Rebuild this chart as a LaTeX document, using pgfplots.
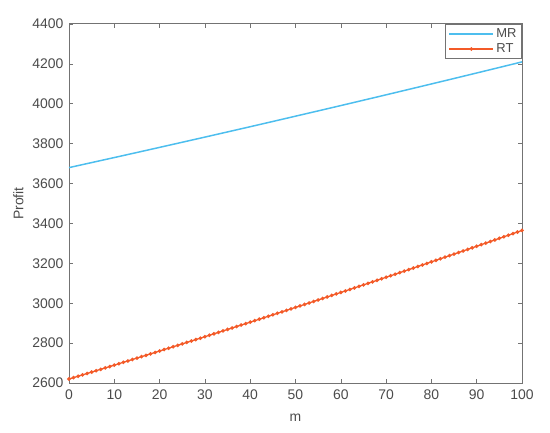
\documentclass[border=0pt]{standalone}
\usepackage{pgfplots}
\pgfplotsset{compat=1.18}
\usepackage{fontspec}
\setmainfont{Liberation Sans}
\definecolor{mrc}{RGB}{77,190,238}
\definecolor{rtc}{RGB}{243,90,40}
\definecolor{axc}{RGB}{115,115,115}
\definecolor{txc}{RGB}{75,75,75}
\begin{document}
\begin{tikzpicture}[x=1bp,y=1bp]
\path[use as bounding box] (-69bp,-50bp) rectangle (481bp,383bp);
\begin{axis}[
  at={(0,0)}, anchor=south west,
  scale only axis, width=453bp, height=359bp,
  xmin=0, xmax=100, ymin=2600, ymax=4400,
  xtick={0,10,...,100}, ytick={2600,2800,...,4400},
  tick align=inside, tick pos=both,
  major tick length=4bp,
  axis line style={axc, line width=1pt},
  every tick/.style={axc, line width=0.6pt},
  tick label style={font=\fontsize{14}{16}\selectfont, text=txc},
  xticklabel style={yshift=-3bp},
  yticklabel style={xshift=-2bp},
  /pgf/number format/assume math mode=true,
  /pgf/number format/1000 sep={},
  xlabel={m}, ylabel={Profit},
  label style={font=\fontsize{14}{16}\selectfont, text=txc},
  xlabel style={yshift=-8bp},
  ylabel style={yshift=2bp},
  legend style={at={(1,1)}, anchor=north east, draw=axc, line width=1pt,
    font=\fontsize{13}{15}\selectfont, text=txc, inner xsep=3pt, inner ysep=2pt, row sep=1pt},
  legend cell align=left,
  legend image post style={},
  legend image code/.code={\draw[#1, mark=none] (0bp,0bp) -- (44bp,0bp); \draw[#1] plot coordinates {(22bp,0bp)};},
  clip=false,
]
\addlegendimage{draw={rgb,255:red,77;green,190;blue,238}, line width=2pt}
\addlegendentry{MR}
\addlegendimage{draw=rtc, line width=1.3pt, mark=*, mark size=1.1pt, mark options={fill=rtc, draw=rtc}}
\addlegendentry{RT}
\addplot[color=mrc, line width=1.5pt, forget plot] coordinates {
(0,3680.0) (5,3705.1) (10,3730.4) (15,3755.8) (20,3781.4) (25,3807.1) (30,3832.9)
(35,3858.9) (40,3885.0) (45,3911.3) (50,3937.8) (55,3964.3) (60,3991.0) (65,4017.9)
(70,4044.9) (75,4072.1) (80,4099.4) (85,4126.8) (90,4154.4) (95,4182.1) (100,4210.0)
};
\addplot[color=rtc, line width=1.3pt, mark=*, mark size=1.1pt, mark options={fill=rtc, draw=rtc}, forget plot] coordinates {
(0,2620.0) (1,2626.9) (2,2633.8) (3,2640.8) (4,2647.7) (5,2654.7) (6,2661.7) (7,2668.6) (8,2675.6) (9,2682.6)
(10,2689.6) (11,2696.7) (12,2703.7) (13,2710.7) (14,2717.8) (15,2724.9) (16,2731.9) (17,2739.0) (18,2746.1) (19,2753.2)
(20,2760.4) (21,2767.5) (22,2774.6) (23,2781.8) (24,2789.0) (25,2796.1) (26,2803.3) (27,2810.5) (28,2817.7) (29,2824.9)
(30,2832.2) (31,2839.4) (32,2846.7) (33,2853.9) (34,2861.2) (35,2868.5) (36,2875.8) (37,2883.1) (38,2890.4) (39,2897.7)
(40,2905.0) (41,2912.4) (42,2919.7) (43,2927.1) (44,2934.5) (45,2941.9) (46,2949.3) (47,2956.7) (48,2964.1) (49,2971.6)
(50,2979.0) (51,2986.5) (52,2993.9) (53,3001.4) (54,3008.9) (55,3016.4) (56,3023.9) (57,3031.4) (58,3039.0) (59,3046.5)
(60,3054.0) (61,3061.6) (62,3069.2) (63,3076.8) (64,3084.4) (65,3092.0) (66,3099.6) (67,3107.2) (68,3114.9) (69,3122.5)
(70,3130.2) (71,3137.8) (72,3145.5) (73,3153.2) (74,3160.9) (75,3168.6) (76,3176.4) (77,3184.1) (78,3191.8) (79,3199.6)
(80,3207.4) (81,3215.1) (82,3222.9) (83,3230.7) (84,3238.5) (85,3246.4) (86,3254.2) (87,3262.0) (88,3269.9) (89,3277.8)
(90,3285.6) (91,3293.5) (92,3301.4) (93,3309.3) (94,3317.3) (95,3325.2) (96,3333.1) (97,3341.1) (98,3349.0) (99,3357.0)
(100,3365.0)
};
\end{axis}
\end{tikzpicture}
\end{document}
